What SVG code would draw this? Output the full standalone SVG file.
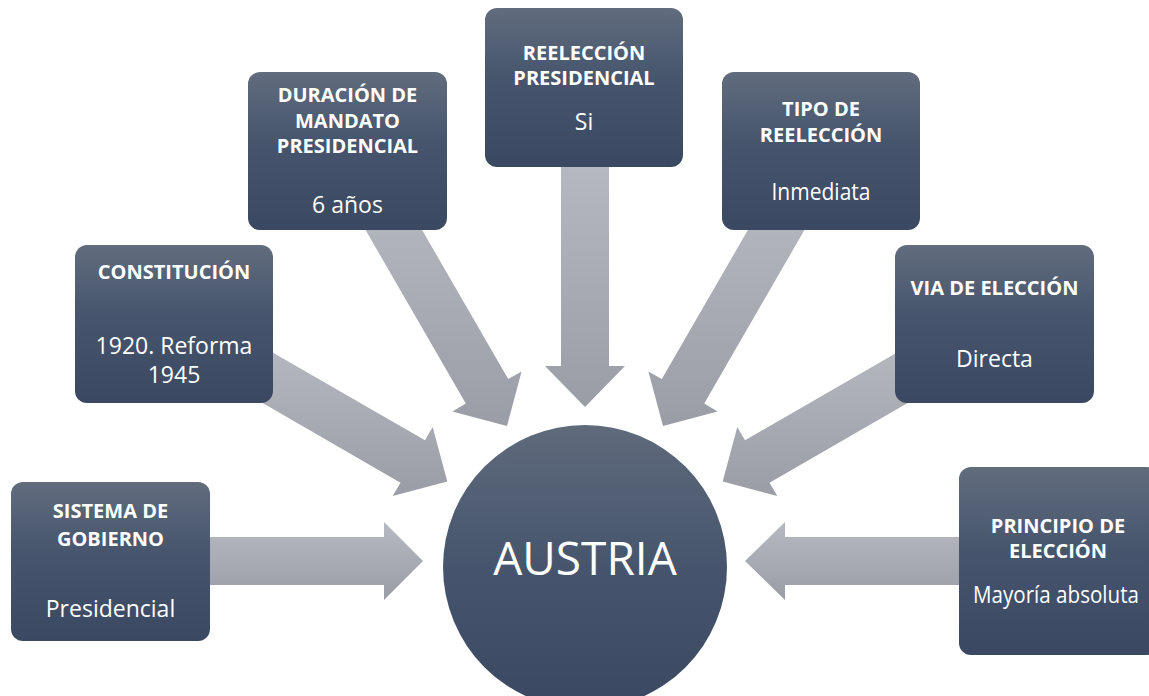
<svg xmlns="http://www.w3.org/2000/svg" width="1149" height="696" viewBox="0 0 1149 696">
  <defs>
    <linearGradient id="boxGrad" x1="0" y1="0" x2="0" y2="1">
      <stop offset="0" stop-color="#616c7d"/>
      <stop offset="0.45" stop-color="#46556d"/>
      <stop offset="1" stop-color="#3a4861"/>
    </linearGradient>
    <linearGradient id="circGrad" x1="0" y1="0" x2="0" y2="1">
      <stop offset="0" stop-color="#5f6a7b"/>
      <stop offset="0.5" stop-color="#46556d"/>
      <stop offset="1" stop-color="#3a4861"/>
    </linearGradient>
    <linearGradient id="arrowGrad" x1="0" y1="0" x2="0" y2="1">
      <stop offset="0" stop-color="#b6b9c0"/>
      <stop offset="1" stop-color="#9a9da5"/>
    </linearGradient>
  </defs>
  <style>
    .arrow { fill: url(#arrowGrad); }
    .box { fill: url(#boxGrad); }
    .title { font-family: "Open Sans", "Noto Sans", "DejaVu Sans", sans-serif; font-weight: bold; font-size: 20px; fill: #ffffff; text-anchor: middle; }
    .value { font-family: "Open Sans", "Noto Sans", "DejaVu Sans", sans-serif; font-size: 23px; fill: #ffffff; text-anchor: middle; }
    .center { font-family: "Open Sans", "Noto Sans", "DejaVu Sans", sans-serif; font-size: 46px; fill: #ffffff; text-anchor: middle; }
  </style>
  <rect width="1149" height="696" fill="#ffffff"/>

  <g id="connectors">
    <polygon class="arrow" points="205,537 384,537 384,522 423,561 384,600 384,585 205,585"/>
    <polygon class="arrow" points="251.7,340.3 425,440.3 432.7,426.9 447.3,481.5 392.7,496.1 400.5,482.7 227.3,382.7"/>
    <polygon class="arrow" points="355.8,213.1 465.8,403.6 452.4,411.4 507,426 521.6,371.4 508.2,379.1 398.2,188.6"/>
    <polygon class="arrow" points="561,160 609,160 609,366 625,366 585,407 545,366 561,366"/>
    <polygon class="arrow" points="814.2,213.1 704.2,403.6 717.6,411.4 663,426 648.4,371.4 661.8,379.1 771.8,188.6"/>
    <polygon class="arrow" points="918.3,340.3 745,440.3 737.3,426.9 722.7,481.5 777.3,496.1 769.5,482.7 942.7,382.7"/>
    <polygon class="arrow" points="965,537 785,537 785,522 745,561 785,600 785,585 965,585"/>
  </g>

  <g id="node-austria">
    <circle cx="585" cy="567" r="142" fill="url(#circGrad)"/>
    <text class="center" x="585" y="575">AUSTRIA</text>
  </g>

  <g id="node-sistema">
    <rect class="box" x="11" y="482" width="199" height="159" rx="12"/>
    <text class="title" x="110.5" y="518">SISTEMA DE</text>
    <text class="title" x="110.5" y="546">GOBIERNO</text>
    <text class="value" x="110.5" y="617">Presidencial</text>
  </g>

  <g id="node-constitucion">
    <rect class="box" x="75" y="245" width="198" height="158" rx="12"/>
    <text class="title" x="174" y="279">CONSTITUCIÓN</text>
    <text class="value" x="174" y="354">1920. Reforma</text>
    <text class="value" x="174" y="383">1945</text>
  </g>

  <g id="node-duracion">
    <rect class="box" x="248" y="72" width="199" height="158" rx="12"/>
    <text class="title" x="347.5" y="102">DURACIÓN DE</text>
    <text class="title" x="347.5" y="128">MANDATO</text>
    <text class="title" x="347.5" y="153">PRESIDENCIAL</text>
    <text class="value" x="347.5" y="213">6 años</text>
  </g>

  <g id="node-reeleccion">
    <rect class="box" x="485" y="8" width="198" height="159" rx="12"/>
    <text class="title" x="584" y="60">REELECCIÓN</text>
    <text class="title" x="584" y="85">PRESIDENCIAL</text>
    <text class="value" x="584" y="130">Si</text>
  </g>

  <g id="node-tipo">
    <rect class="box" x="722" y="72" width="198" height="158" rx="12"/>
    <text class="title" x="821" y="116">TIPO DE</text>
    <text class="title" x="821" y="142">REELECCIÓN</text>
    <text class="value" x="821" y="200" textLength="99" lengthAdjust="spacingAndGlyphs">Inmediata</text>
  </g>

  <g id="node-via">
    <rect class="box" x="895" y="245" width="199" height="158" rx="12"/>
    <text class="title" x="994.5" y="295">VIA DE ELECCIÓN</text>
    <text class="value" x="994.5" y="367">Directa</text>
  </g>

  <g id="node-principio">
    <rect class="box" x="959" y="467" width="199" height="188" rx="12"/>
    <text class="title" x="1058" y="533">PRINCIPIO DE</text>
    <text class="title" x="1058" y="558">ELECCIÓN</text>
    <text class="value" x="1056" y="603" textLength="166" lengthAdjust="spacingAndGlyphs">Mayoría absoluta</text>
  </g>
</svg>
